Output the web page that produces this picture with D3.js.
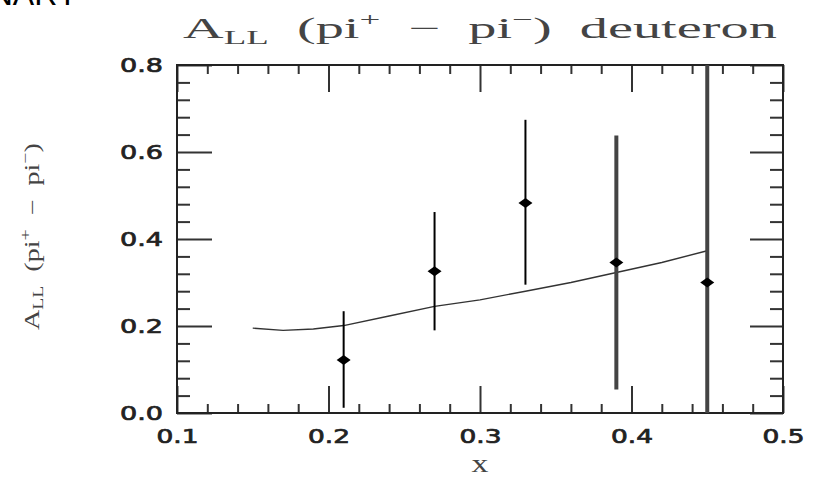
<!DOCTYPE html>
<html>
<head>
<meta charset="utf-8">
<script src="https://cdn.jsdelivr.net/npm/d3@7"></script>
<style>
  body { margin: 0; background: #fff; }
  svg { display: block; }
</style>
</head>
<body>
<script>
const width = 819;
const height = 477;

// measured points (x, asymmetry, error bar low / high)
const xs     = [0.21, 0.27, 0.33, 0.39, 0.45];
const vals   = [0.122, 0.326, 0.483, 0.346, 0.300];
const errLo  = [0.012, 0.190, 0.295, 0.054, -0.10];
const errHi  = [0.234, 0.462, 0.674, 0.638, 0.90];

// model curve
const curveX = [0.15, 0.17, 0.19, 0.20, 0.21, 0.24, 0.27, 0.30, 0.33, 0.36, 0.39, 0.42, 0.45];
const curveY = [0.195, 0.190, 0.193, 0.197, 0.201, 0.223, 0.245, 0.260, 0.280, 0.300, 0.323, 0.346, 0.373];

const xMajor = [0.1, 0.2, 0.3, 0.4, 0.5];
const yMajor = [0.0, 0.2, 0.4, 0.6, 0.8];

const mLeft = 177, mRight = 783, mTop = 65, mBottom = 413;

const x = d3.scaleLinear().domain([0.1, 0.5]).range([mLeft, mRight]);
const y = d3.scaleLinear().domain([0, 0.8]).range([mBottom, mTop]);

const xMinor = d3.range(0.12, 0.5, 0.02).filter(v => Math.abs(v * 10 - Math.round(v * 10)) > 1e-6);
const yMinor = d3.range(0.04, 0.8, 0.04).filter(v => Math.abs(v * 5 - Math.round(v * 5)) > 1e-6);

const svg = d3.select(document.body).append("svg")
    .attr("width", width)
    .attr("height", height);

svg.append("clipPath").attr("id", "plot")
  .append("rect")
    .attr("x", mLeft).attr("y", mTop)
    .attr("width", mRight - mLeft).attr("height", mBottom - mTop);

// stretch a text horizontally so it spans a given width
function stretch(text, w) {
    const len = text.node().getComputedTextLength();
    return w / len;
}

const serif = "Liberation Serif, Times New Roman, serif";

// corner fragment of a stamp word
svg.append("text")
    .attr("x", 78).attr("y", 5)
    .attr("text-anchor", "end")
    .attr("font-family", "Liberation Sans, Arial, sans-serif")
    .attr("font-size", 32)
    .attr("fill", "#000")
    .text("NARY");

// title
const title = svg.append("text")
    .attr("font-family", serif)
    .attr("font-size", 29)
    .attr("fill", "#444")
    .style("white-space", "pre");
title.append("tspan").text("A");
title.append("tspan").attr("dy", 6).attr("font-size", 19).text("LL");
title.append("tspan").attr("dy", -6).text("  (pi");
title.append("tspan").attr("dy", -12).attr("font-size", 19).text("+");
title.append("tspan").attr("dy", 12).text("  −  pi");
title.append("tspan").attr("dy", -12).attr("font-size", 19).text("−");
title.append("tspan").attr("dy", 12).text(")  deuteron");
const tsx = stretch(title, 777 - 183);
title.attr("transform", `translate(183,38) scale(${tsx},1)`);

// y axis title
const ytitle = svg.append("text")
    .attr("font-family", serif)
    .attr("font-size", 20)
    .attr("fill", "#444")
    .style("white-space", "pre");
ytitle.append("tspan").text("A");
ytitle.append("tspan").attr("dy", 4).attr("font-size", 14).text("LL");
ytitle.append("tspan").attr("dy", -4).text("  (pi");
ytitle.append("tspan").attr("dy", -9).attr("font-size", 14).text("+");
ytitle.append("tspan").attr("dy", 9).text("  −  pi");
ytitle.append("tspan").attr("dy", -9).attr("font-size", 14).text("−");
ytitle.append("tspan").attr("dy", 9).text(")");
const ysx = stretch(ytitle, 330 - 143);
ytitle.attr("transform", `translate(39,330) rotate(-90) scale(${ysx},1)`);

// x axis title
svg.append("text")
    .attr("x", 480).attr("y", 472)
    .attr("text-anchor", "middle")
    .attr("font-family", serif)
    .attr("font-size", 26)
    .attr("fill", "#444")
    .attr("transform", "translate(480,0) scale(1.3,1) translate(-480,0)")
    .text("x");

// axes with inward ticks
function styleAxis(g) {
    g.select(".domain").remove();
    g.selectAll(".tick line").attr("stroke", "#333").attr("stroke-width", 2);
}

const tickFont = "DejaVu Sans, Verdana, sans-serif";

function styleLabels(g, w) {
    g.selectAll("text")
        .attr("font-family", tickFont).attr("font-size", 19)
        .attr("fill", "#222").attr("stroke", "#222").attr("stroke-width", 0.7)
        .attr("textLength", w).attr("lengthAdjust", "spacingAndGlyphs");
}

svg.append("g")
    .attr("transform", `translate(0,${mBottom})`)
    .call(d3.axisBottom(x).tickValues(xMajor).tickSize(-27).tickPadding(17).tickFormat(d3.format(".1f")))
    .call(styleAxis)
    .call(g => styleLabels(g, 42));
svg.append("g")
    .attr("transform", `translate(0,${mBottom})`)
    .call(d3.axisBottom(x).tickValues(xMinor).tickSize(-9).tickFormat(""))
    .call(styleAxis);
svg.append("g")
    .attr("transform", `translate(0,${mTop})`)
    .call(d3.axisTop(x).tickValues(xMajor).tickSize(-27).tickFormat(""))
    .call(styleAxis);
svg.append("g")
    .attr("transform", `translate(0,${mTop})`)
    .call(d3.axisTop(x).tickValues(xMinor).tickSize(-9).tickFormat(""))
    .call(styleAxis);

svg.append("g")
    .attr("transform", `translate(${mLeft},0)`)
    .call(d3.axisLeft(y).tickValues(yMajor).tickSize(-35).tickPadding(14).tickFormat(d3.format(".1f")))
    .call(styleAxis)
    .call(g => styleLabels(g, 43));
svg.append("g")
    .attr("transform", `translate(${mLeft},0)`)
    .call(d3.axisLeft(y).tickValues(yMinor).tickSize(-13).tickFormat(""))
    .call(styleAxis);
svg.append("g")
    .attr("transform", `translate(${mRight},0)`)
    .call(d3.axisRight(y).tickValues(yMajor).tickSize(-33).tickFormat(""))
    .call(styleAxis);
svg.append("g")
    .attr("transform", `translate(${mRight},0)`)
    .call(d3.axisRight(y).tickValues(yMinor).tickSize(-13).tickFormat(""))
    .call(styleAxis);

// frame
svg.append("rect")
    .attr("x", mLeft).attr("y", mTop)
    .attr("width", mRight - mLeft).attr("height", mBottom - mTop)
    .attr("fill", "none")
    .attr("stroke", "#222")
    .attr("stroke-width", 2);

// model curve
const line = d3.line().x(d => x(d[0])).y(d => y(d[1]));
svg.append("path")
    .datum(d3.zip(curveX, curveY))
    .attr("d", line)
    .attr("fill", "none")
    .attr("stroke", "#333")
    .attr("stroke-width", 1.4);

// error bars
const pts = xs.map((d, i) => ({x: d, v: vals[i], lo: errLo[i], hi: errHi[i], heavy: i >= 3}));

svg.append("g")
    .attr("clip-path", "url(#plot)")
  .selectAll("line")
  .data(pts)
  .join("line")
    .attr("x1", d => x(d.x)).attr("x2", d => x(d.x))
    .attr("y1", d => y(d.lo)).attr("y2", d => y(d.hi))
    .attr("stroke", d => d.heavy ? "#444" : "#000")
    .attr("stroke-width", d => d.heavy ? 4 : 2);

// diamond markers
svg.append("g")
  .selectAll("path")
  .data(pts)
  .join("path")
    .attr("d", d => {
        const cx = x(d.x), cy = y(d.v);
        return `M${cx - 7},${cy}L${cx},${cy - 5}L${cx + 7},${cy}L${cx},${cy + 5}Z`;
    })
    .attr("fill", "#000");
</script>
</body>
</html>
